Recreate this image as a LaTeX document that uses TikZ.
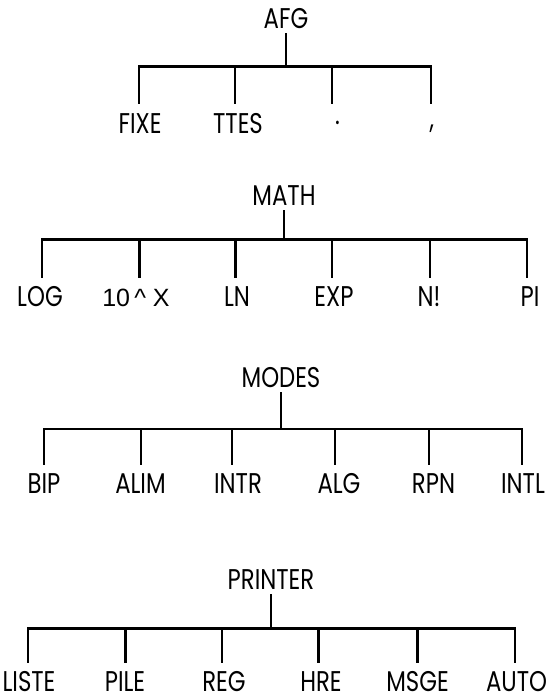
\documentclass[tikz,border=0pt]{standalone}
\usepackage{fontspec}
\setmainfont{Poppins}[FakeStretch=0.8]
\newfontfamily\arialfont{Liberation Sans}
\tikzset{
  tree/.style={draw=black,line width=2.4pt,line cap=rect},
  root/.style={anchor=base,font=\fontsize{28.5}{32}\selectfont,inner xsep=0pt,
    inner ysep=6pt,text height=19.5pt,text depth=0pt},
  leaf/.style={root,inner ysep=2pt,text height=27.5pt}
}

\begin{document}
\begin{tikzpicture}[x=1pt,y=-1pt]
  \useasboundingbox (0,0) rectangle (552,698);

  % AFG
  \node[root] (afg) at (286,28.3) {AFG};
  \node[leaf] (fixe) at (140,133) {FIXE};
  \node[leaf] (ttes) at (238,133) {TTES};
  \node[leaf] (point) at (337.5,133) {\raisebox{8.5pt}{.}};
  \node[leaf] (virgule) at (432,133) {\raisebox{5pt}{,}};
  \foreach \x [count=\i] in {139,235,332,431}
    \coordinate (afg\i) at (\x,66.5);
  \draw[tree] (afg) -- (afg |- afg1);
  \draw[tree] (afg1) -- (afg4);
  \foreach \n [count=\i] in {fixe,ttes,point,virgule}
    \draw[tree] (afg\i) -- (afg\i |- \n.north);

  % MATH
  \node[root] (math) at (284,205) {MATH};
  \node[leaf] (log) at (40,306.5) {LOG};
  \node[leaf,font=\arialfont\fontsize{25}{28}\selectfont] (dixx) at (136,306.5) {10\,\textasciicircum\ X};
  \node[leaf] (ln) at (237,306.5) {LN};
  \node[leaf] (exp) at (334,306.5) {EXP};
  \node[leaf] (fact) at (429,306.5) {N!};
  \node[leaf] (pi) at (530,306.5) {PI};
  \foreach \x [count=\i] in {42,139.5,235.5,332,430,527}
    \coordinate (math\i) at (\x,239.5);
  \draw[tree] (math) -- (math |- math1);
  \draw[tree] (math1) -- (math6);
  \foreach \n [count=\i] in {log,dixx,ln,exp,fact,pi}
    \draw[tree] (math\i) -- (math\i |- \n.north);

  % MODES
  \node[root] (modes) at (281,387.3) {MODES};
  \node[leaf] (bip) at (44,493.5) {BIP};
  \node[leaf] (alim) at (140.5,493.5) {ALIM};
  \node[leaf] (intr) at (238,493.5) {INTR};
  \node[leaf] (alg) at (339,493.5) {ALG};
  \node[leaf] (rpn) at (433.5,493.5) {RPN};
  \node[leaf] (intl) at (523,493.5) {INTL};
  \foreach \x [count=\i] in {44,141,231.7,335,429,522}
    \coordinate (modes\i) at (\x,429);
  \draw[tree] (modes) -- (modes |- modes1);
  \draw[tree] (modes1) -- (modes6);
  \foreach \n [count=\i] in {bip,alim,intr,alg,rpn,intl}
    \draw[tree] (modes\i) -- (modes\i |- \n.north);

  % PRINTER
  \node[root] (printer) at (271,589.3) {PRINTER};
  \node[leaf] (liste) at (29,691) {LISTE};
  \node[leaf] (pile) at (125,691) {PILE};
  \node[leaf] (reg) at (224,691) {REG};
  \node[leaf] (hre) at (321,691) {HRE};
  \node[leaf] (msge) at (417.5,691) {MSGE};
  \node[leaf] (auto) at (516.5,691) {AUTO};
  \foreach \x [count=\i] in {28,125.5,221.7,318.5,417.5,515}
    \coordinate (printer\i) at (\x,628.3);
  \draw[tree] (printer) -- (printer |- printer1);
  \draw[tree] (printer1) -- (printer6);
  \foreach \n [count=\i] in {liste,pile,reg,hre,msge,auto}
    \draw[tree] (printer\i) -- (printer\i |- \n.north);
\end{tikzpicture}
\end{document}
